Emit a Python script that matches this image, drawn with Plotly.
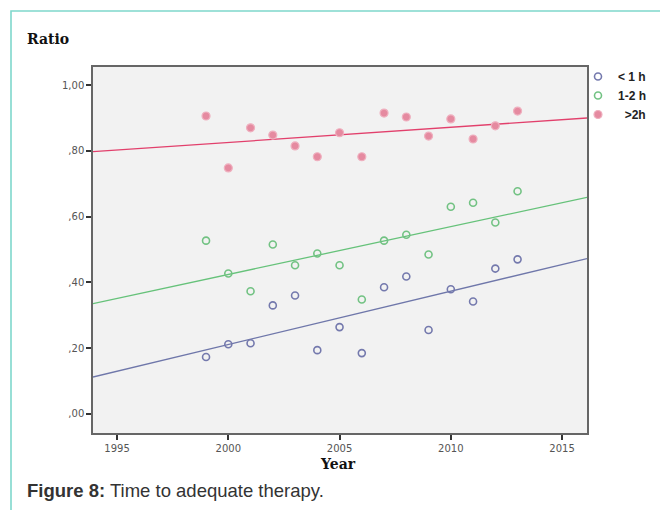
import numpy as np
import plotly.graph_objects as go

years = [1999, 2000, 2001, 2002, 2003, 2004, 2005, 2006, 2007, 2008, 2009, 2010, 2011, 2012, 2013]
lt1h = [0.173, 0.212, 0.215, 0.330, 0.360, 0.194, 0.264, 0.185, 0.385, 0.418, 0.255, 0.379, 0.342, 0.442, 0.470]
h1_2 = [0.527, 0.427, 0.373, 0.515, 0.452, 0.488, 0.452, 0.348, 0.527, 0.545, 0.485, 0.630, 0.642, 0.582, 0.677]
gt2h = [0.906, 0.748, 0.870, 0.848, 0.815, 0.782, 0.855, 0.782, 0.915, 0.903, 0.845, 0.897, 0.836, 0.876, 0.921]

series_names = ["<b>&lt; 1 h</b>", "<b>1-2 h</b>", "<b>&nbsp;&nbsp;&gt;2h</b>"]
y_tickvals = [0.0, 0.2, 0.4, 0.6, 0.8, 1.0]
y_ticktext = [",00", ",20", ",40", ",60", ",80", "1,00"]
x_tickvals = [1995, 2000, 2005, 2010, 2015]

x_range = [1993.92, 2016.12]
y_range = [-0.058, 1.055]

W, H = 660, 510
L, R, T, B = 93, 73, 67, 77
pw, ph = W - L - R, H - T - B


def px(x):
    return (x - L) / pw


def py(y):
    return (H - B - y) / ph


fig = go.Figure()

marker_specs = [
    dict(symbol="circle-open", size=7, color="#7479ad", line=dict(width=1.6, color="#7479ad")),
    dict(symbol="circle-open", size=7, color="#72c283", line=dict(width=1.6, color="#72c283")),
    dict(symbol="circle", size=8, color="#e58aa0", line=dict(width=1.2, color="#efb0bf")),
]
line_colors = ["#6f77aa", "#66c27a", "#e2406c"]

xs = np.array(x_range)
for name, vals, mk, lc in zip(series_names, [lt1h, h1_2, gt2h], marker_specs, line_colors):
    coef = np.polyfit(years, vals, 1)
    fig.add_trace(go.Scatter(x=xs, y=np.polyval(coef, xs), mode="lines",
                             line=dict(color=lc, width=1.3), showlegend=False, hoverinfo="skip"))

for name, vals, mk in zip(series_names, [lt1h, h1_2, gt2h], marker_specs):
    fig.add_trace(go.Scatter(x=years, y=vals, mode="markers", name=name, marker=mk))

tick_font = dict(family="DejaVu Sans", size=10, color="#555")

fig.update_layout(
    width=W, height=H,
    margin=dict(l=L, r=R, t=T, b=B, pad=0, autoexpand=False),
    paper_bgcolor="white",
    plot_bgcolor="#f2f2f2",
    showlegend=True,
    legend=dict(x=px(578), y=py(62), xanchor="left", yanchor="top",
                bgcolor="rgba(0,0,0,0)", font=dict(family="Liberation Sans", size=12, color="#222"),
                itemwidth=30, tracegroupgap=0),
    xaxis=dict(range=x_range, tickvals=x_tickvals, ticks="outside", ticklen=5, tickwidth=1.5,
               tickcolor="#333", showgrid=False, zeroline=False, showline=True, linecolor="#666",
               linewidth=1.5, mirror=True, tickfont=tick_font),
    yaxis=dict(range=y_range, tickvals=y_tickvals, ticktext=y_ticktext, ticks="outside", ticklen=5,
               tickwidth=1.5, tickcolor="#333", showgrid=False, zeroline=False, showline=True,
               linecolor="#666", linewidth=1.5, mirror=True, tickfont=tick_font),
    shapes=[
        dict(type="path", xref="paper", yref="paper",
             path=f"M {px(11)} {py(520)} L {px(11)} {py(11)} L {px(670)} {py(11)}",
             line=dict(color="#7fd8cc", width=1.6)),
    ],
    annotations=[
        dict(text="<b>Ratio</b>", xref="paper", yref="paper", x=px(25), y=py(39),
             xanchor="left", yanchor="middle", showarrow=False,
             font=dict(family="DejaVu Serif", size=14, color="#111")),
        dict(text="<b>Year</b>", xref="paper", yref="paper", x=px(338), y=py(464),
             xanchor="center", yanchor="middle", showarrow=False,
             font=dict(family="DejaVu Serif", size=14, color="#111")),
        dict(text="<b>Figure 8:</b> Time to adequate therapy.", xref="paper", yref="paper",
             x=px(25), y=py(490), xanchor="left", yanchor="middle", showarrow=False,
             font=dict(family="Liberation Sans", size=18.5, color="#333")),
    ],
)

fig.write_html("out.html")
